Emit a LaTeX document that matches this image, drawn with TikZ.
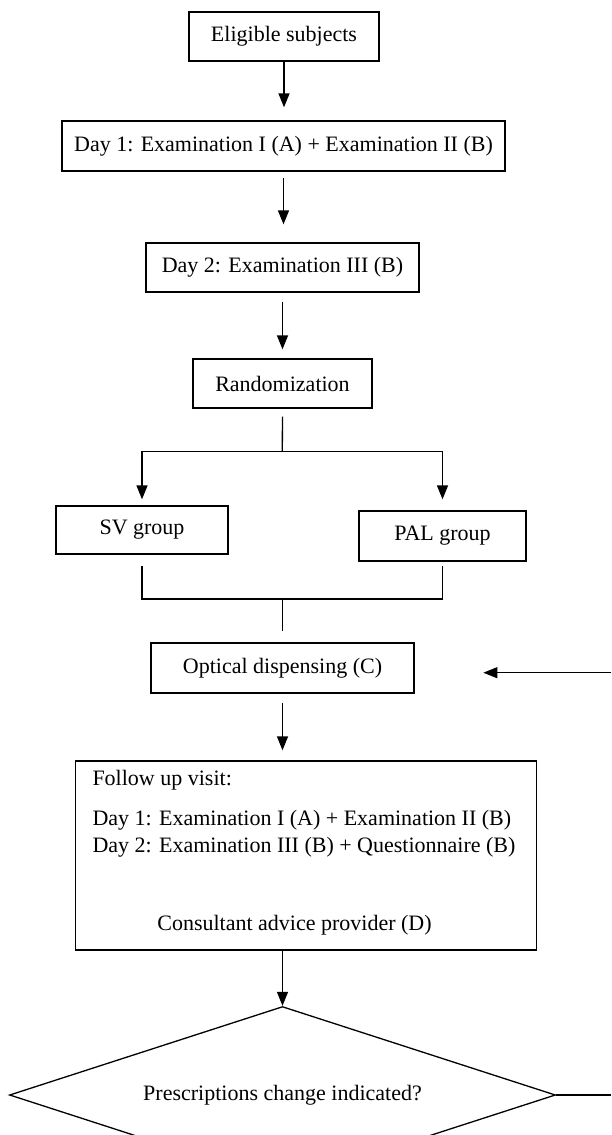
\documentclass[tikz,border=0pt]{standalone}
\usepackage{fontspec}
\setmainfont{Liberation Serif}
\usetikzlibrary{arrows.meta,shapes.geometric,calc}
\begin{document}
\begin{tikzpicture}[x=1pt,y=-1pt,
  every node/.style={font=\fontsize{22}{26}\selectfont},
  box/.style={draw,line width=1.3pt,rectangle,inner sep=0pt},
  txt/.style={inner sep=0pt,anchor=base west},
  ln/.style={line width=1.3pt},
  arr/.style={line width=1.3pt,-{Triangle[length=14pt,width=11pt]}}]
\useasboundingbox (0,0) rectangle (611,1135);
\clip (0,0) rectangle (611,1135);
\fill[white] (0,0) rectangle (611,1135);
% boxes
\node[box,minimum width=190pt,minimum height=49pt] (elig) at (284,36.5) {Eligible subjects};
\node[box,minimum width=443pt,minimum height=50pt] (day1) at (283.5,146) {Day 1: Examination I (A) + Examination II (B)};
\node[box,minimum width=273pt,minimum height=49pt] (day2) at (282.5,267.5) {Day 2: Examination III (B)};
\node[box,minimum width=179pt,minimum height=49pt] (rand) at (282.5,383.5) {Randomization};
\node[box,minimum width=172pt,minimum height=48pt] (sv) at (142,530) {SV group};
\node[box,minimum width=167pt,minimum height=50pt] (pal) at (442.5,536) {PAL group};
\node[box,minimum width=263pt,minimum height=50pt] (opt) at (282.5,668) {Optical dispensing (C)};
\node[box,minimum width=461pt,minimum height=189pt] (fu) at (306,855.5) {};
\node[txt] (fu1) at (92.3,785.5) {Follow up visit:};
\node[txt] (fu2) at (92.3,825.5) {Day 1: Examination I (A) + Examination II (B)};
\node[txt] (fu3) at (92.3,852.5) {Day 2: Examination III (B) + Questionnaire (B)};
\node[inner sep=0pt,anchor=base] (fu4) at (294.5,930.5) {Consultant advice provider (D)};
\node[draw,line width=1.3pt,diamond,aspect=3.08,inner sep=0pt,minimum width=546pt,minimum height=177pt] (dec) at (282.5,1095) {Prescriptions change indicated?};
% coordinates
\coordinate (split) at (282.3,451.7);
\coordinate (merge) at (282.3,599);
\coordinate (fbin) at (611,672.7);
\coordinate (fbout) at (611,1095);
% connectors
\draw[arr,shorten >=13pt] (elig.south) -- (elig.south |- day1.north);
\draw[arr,shorten <=6pt,shorten >=18pt] (day1.south) -- (day1.south |- day2.north);
\draw[arr,shorten <=9pt,shorten >=9pt] (day2.south) -- (day2.south |- rand.north);
\draw[ln,shorten <=8pt] (rand.south) -- (split);
\draw[arr,shorten >=6pt] (split) -| (sv.north);
\draw[arr,shorten >=11pt] (split) -| (pal.north);
\draw[ln,shorten <=11.7pt] (sv.south) |- (merge);
\draw[ln,shorten <=4.7pt] (pal.south) |- (merge);
\draw[ln,shorten >=11.5pt] (merge) -- (merge |- opt.north);
\draw[arr,shorten <=9pt,shorten >=10pt] (opt.south) -- (opt.south |- fu.north);
\draw[arr] (fu.south -| dec.north) -- (dec.north);
\draw[ln] (dec.east) -- (fbout);
\draw[arr,shorten >=68.7pt] (fbin) -- (fbin -| opt.east);
\end{tikzpicture}
\end{document}
